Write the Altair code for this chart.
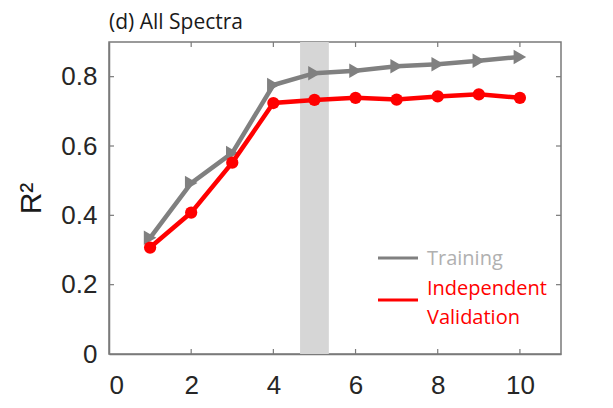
import altair as alt
import pandas as pd

# Number of components vs. R^2
components = [1, 2, 3, 4, 5, 6, 7, 8, 9, 10]
training = [0.335, 0.493, 0.580, 0.776, 0.810, 0.817, 0.830, 0.836, 0.846, 0.857]
validation = [0.307, 0.408, 0.552, 0.724, 0.733, 0.739, 0.734, 0.743, 0.749, 0.739]

x_ticks = [0, 2, 4, 6, 8, 10]
y_ticks = [0, 0.2, 0.4, 0.6, 0.8]
band_start = [4.65]
band_end = [5.35]

W, H = 452, 312
FRAME = "#7a7a7a"
GRAY = "#808080"
RED = "#ff0000"
TICK_FONT = "Liberation Sans"
TEXT_FONT = "Open Sans"

df = pd.DataFrame({"n": components, "train": training, "valid": validation})

x_scale = alt.Scale(domain=[0, 11], nice=False, zero=False)
y_scale = alt.Scale(domain=[0, 0.9], nice=False, zero=False)

x_axis = alt.Axis(
    values=x_ticks, ticks=False, grid=False, domainColor=FRAME, domainWidth=1.5,
    labelFont=TICK_FONT, labelFontSize=26, labelColor="#262626", labelPadding=18,
    title=None,
)
y_axis = alt.Axis(
    values=y_ticks, ticks=False, grid=False, domainColor=FRAME, domainWidth=1.5,
    labelFont=TICK_FONT, labelFontSize=26, labelColor="#262626", labelPadding=12,
    labelExpr="datum.value == 0 ? '0' : format(datum.value, '.1f')",
    title="R²", titleFont=TICK_FONT, titleFontSize=30, titleFontWeight="normal",
    titleColor="#1a1a1a", titleAngle=-90, titleAlign="center",
    titleBaseline="alphabetic", titleX=-69, titleY=H / 2,
)

band = alt.Chart(pd.DataFrame({"a": band_start, "b": band_end})).mark_rect(
    color="#d6d6d6"
).encode(
    x=alt.X("a:Q", scale=x_scale, axis=x_axis),
    x2="b:Q",
    y=alt.value(0),
    y2=alt.value(H),
)

base = alt.Chart(df).encode(x=alt.X("n:Q", scale=x_scale, axis=x_axis))

train_line = base.mark_line(color=GRAY, strokeWidth=4.5).encode(
    y=alt.Y("train:Q", scale=y_scale, axis=y_axis)
)
train_pts = base.mark_point(
    shape="triangle-right", filled=True, color=GRAY, size=210, opacity=1
).encode(y=alt.Y("train:Q", scale=y_scale, axis=y_axis))

valid_line = base.mark_line(color=RED, strokeWidth=4.5).encode(
    y=alt.Y("valid:Q", scale=y_scale, axis=y_axis)
)
valid_pts = base.mark_point(
    shape="circle", filled=True, color=RED, size=150, opacity=1
).encode(y=alt.Y("valid:Q", scale=y_scale, axis=y_axis))

# Inward tick marks on all four sides of the box
xt = pd.DataFrame({"v": x_ticks[1:]})
yt = pd.DataFrame({"v": y_ticks[1:]})
tick_len = 5
xticks_bottom = alt.Chart(xt).mark_rule(color=FRAME, strokeWidth=1.2).encode(
    x=alt.X("v:Q", scale=x_scale, axis=x_axis), y=alt.value(H), y2=alt.value(H - tick_len)
)
xticks_top = alt.Chart(xt).mark_rule(color=FRAME, strokeWidth=1.2).encode(
    x=alt.X("v:Q", scale=x_scale, axis=x_axis), y=alt.value(0), y2=alt.value(tick_len)
)
yticks_left = alt.Chart(yt).mark_rule(color=FRAME, strokeWidth=1.2).encode(
    y=alt.Y("v:Q", scale=y_scale, axis=y_axis), x=alt.value(0), x2=alt.value(tick_len)
)
yticks_right = alt.Chart(yt).mark_rule(color=FRAME, strokeWidth=1.2).encode(
    y=alt.Y("v:Q", scale=y_scale, axis=y_axis), x=alt.value(W), x2=alt.value(W - tick_len)
)

# Legend drawn inside the plot box
leg_train_line = alt.Chart(df.head(1)).mark_rule(color=GRAY, strokeWidth=3).encode(
    x=alt.value(269), x2=alt.value(309), y=alt.value(216)
)
leg_valid_line = alt.Chart(df.head(1)).mark_rule(color=RED, strokeWidth=3).encode(
    x=alt.value(269), x2=alt.value(309), y=alt.value(258)
)
leg_train_text = alt.Chart(df.head(1)).mark_text(
    text="Training", font=TEXT_FONT, fontSize=20, color="#b0b0b0",
    align="left", baseline="alphabetic",
).encode(x=alt.value(318), y=alt.value(223))
leg_valid_text = alt.Chart(df.head(1)).mark_text(
    text=["Independent", "Validation"], font=TEXT_FONT, fontSize=20, color=RED,
    align="left", baseline="alphabetic", lineHeight=29,
).encode(x=alt.value(318), y=alt.value(253))

title = alt.Chart(df.head(1)).mark_text(
    text="(d) All Spectra", font=TEXT_FONT, fontSize=21, color="#1a1a1a",
    align="left", baseline="alphabetic",
).encode(x=alt.value(0), y=alt.value(-13))

chart = alt.layer(
    band, train_line, train_pts, valid_line, valid_pts,
    xticks_bottom, xticks_top, yticks_left, yticks_right,
    leg_train_line, leg_valid_line, leg_train_text, leg_valid_text, title,
).properties(
    width=W, height=H,
    autosize=alt.AutoSizeParams(type="none"),
    padding={"left": 109, "top": 42, "right": 52, "bottom": 54},
    background="white",
).configure_view(stroke=FRAME, strokeWidth=1.5)

chart.save("out.html", embed_options={"renderer": "svg", "actions": False})
